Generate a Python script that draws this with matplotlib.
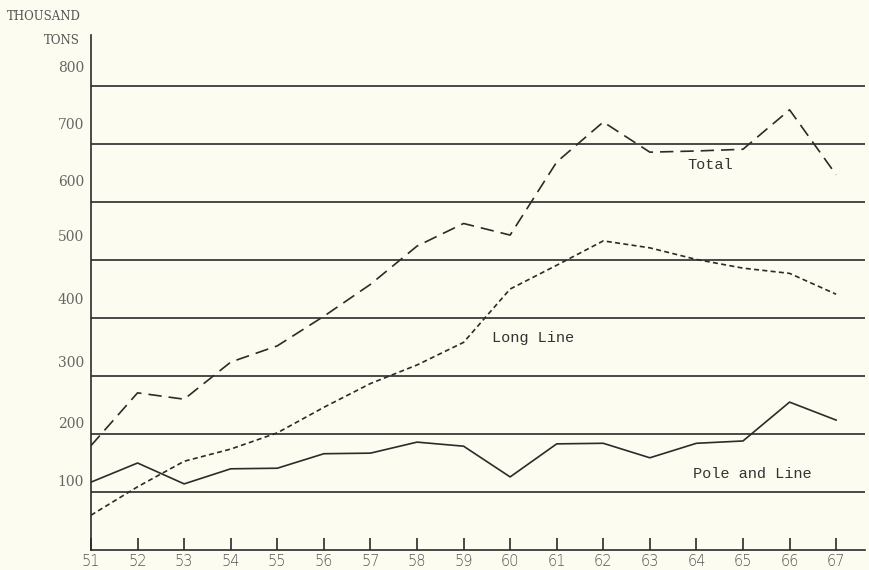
import matplotlib.pyplot as plt

# tuna catch by gear type, thousand tons
years = list(range(51, 68))
total = [180, 271, 260, 324, 352, 403, 458, 524, 563, 543, 669, 738, 686, 688, 691, 759, 647]
long_line = [60, 109, 153, 174, 202, 246, 287, 319, 358, 450, 491, 533, 521, 501, 486, 477, 441]
pole_line = [117, 150, 114, 140, 141, 166, 167, 186, 179, 126, 183, 184, 159, 184, 188, 255, 224]

grid_vals = [100, 200, 300, 400, 500, 600, 700, 800]
# labels sit a little above their rule
label_lift = [17, 18, 22, 31, 40, 34, 33, 31]

bg = '#fcfcf0'
ink = '#2b2b2b'

fig = plt.figure(figsize=(8.69, 5.70), dpi=100, facecolor=bg)
ax = fig.add_axes([91/869, 20/570, (865-91)/869, (550-35)/570])
ax.set_facecolor(bg)

ax.set_xlim(51, 67.62)
ax.set_ylim(0, 888)

for v in grid_vals:
    ax.axhline(v, color=ink, lw=1.2, zorder=1)

ax.plot(years, total, color=ink, lw=1.2, dashes=(8, 4.2), zorder=3)
ax.plot(years, long_line, color=ink, lw=1.2, dashes=(3, 2), zorder=3)
ax.plot(years, pole_line, color=ink, lw=1.2, zorder=3)

mono = 'Liberation Mono'
ax.text(64.3, 664, 'Total', fontsize=11, family=mono, color='#333333',
        ha='center', va='center')
ax.text(60.5, 366, 'Long Line', fontsize=11, family=mono, color='#333333',
        ha='center', va='center')
ax.text(65.2, 131, 'Pole and Line', fontsize=11, family=mono, color='#333333',
        ha='center', va='center')

# spines
for s in ['top', 'right']:
    ax.spines[s].set_visible(False)
ax.spines['left'].set_color(ink)
ax.spines['bottom'].set_color(ink)
ax.spines['left'].set_linewidth(1.2)
ax.spines['bottom'].set_linewidth(1.2)

ax.set_xticks(years)
ax.set_xticklabels([str(y) for y in years], fontsize=10.5, color='#555555',
                   family='DejaVu Sans', fontweight='light')
ax.tick_params(axis='x', direction='in', length=8.5, width=1.2, color=ink, pad=3)
ax.set_yticks([])

for v, lift in zip(grid_vals, label_lift):
    ax.text(-0.009, v + lift, str(v), transform=ax.get_yaxis_transform(),
            fontsize=10, family='DejaVu Serif', color='#666666',
            ha='right', va='center')

fig.text(44/869, 1 - 17/570, 'THOUSAND', fontsize=8.5, family='DejaVu Serif',
         color='#555555', ha='center', va='center')
fig.text(62/869, 1 - 40/570, 'TONS', fontsize=8.5, family='DejaVu Serif',
         color='#555555', ha='center', va='center')

fig.savefig('out.png', dpi=100, facecolor=bg)
